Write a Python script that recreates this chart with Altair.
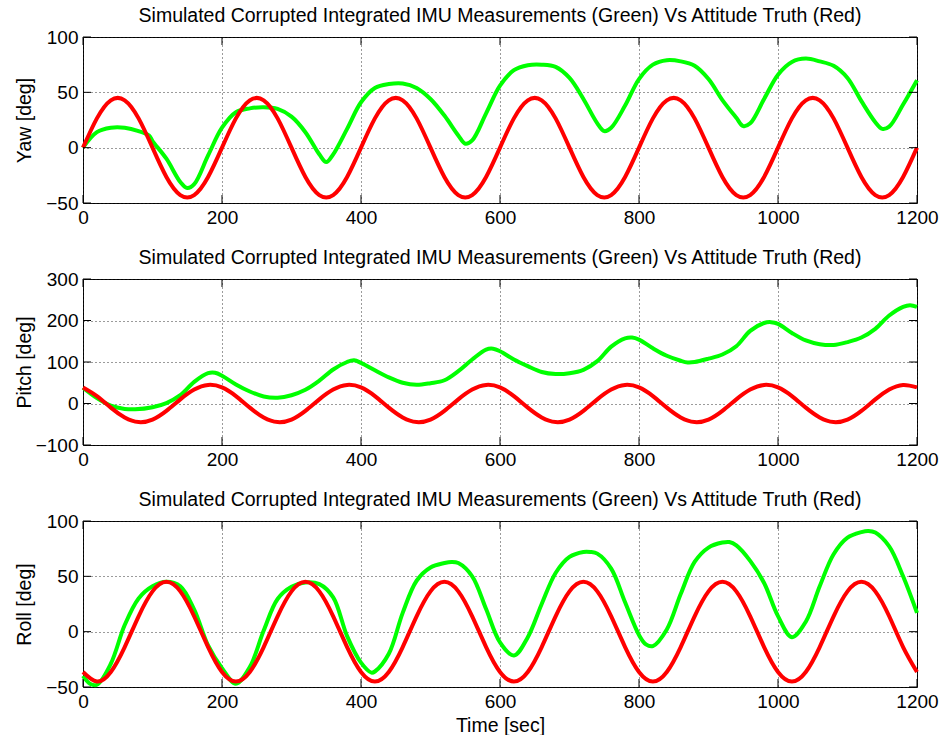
import altair as alt
import pandas as pd

FONT = "Liberation Sans"
TITLE = "Simulated Corrupted Integrated IMU Measurements (Green) Vs Attitude Truth (Red)"
W, H = 834, 166

x_ticks = [0, 200, 400, 600, 800, 1000, 1200]

# Truth samples every 20 s
red_t = list(range(0, 1201, 20))

yaw_red = [
    0, 26.5, 42.8, 42.8, 26.5, 0, -26.5, -42.8, -42.8, -26.5,
    0, 26.5, 42.8, 42.8, 26.5, 0, -26.5, -42.8, -42.8, -26.5,
    0, 26.5, 42.8, 42.8, 26.5, 0, -26.5, -42.8, -42.8, -26.5,
    0, 26.5, 42.8, 42.8, 26.5, 0, -26.5, -42.8, -42.8, -26.5,
    0, 26.5, 42.8, 42.8, 26.5, 0, -26.5, -42.8, -42.8, -26.5,
    0, 26.5, 42.8, 42.8, 26.5, 0, -26.5, -42.8, -42.8, -26.5,
    0,
]
pitch_red = [
    38.8, 17.9, -10, -33.6, -44.8, -38.8, -17.9, 10, 33.6, 44.8,
    38.8, 17.9, -10, -33.6, -44.8, -38.8, -17.9, 10, 33.6, 44.8,
    38.8, 17.9, -10, -33.6, -44.8, -38.8, -17.9, 10, 33.6, 44.8,
    38.8, 17.9, -10, -33.6, -44.8, -38.8, -17.9, 10, 33.6, 44.8,
    38.8, 17.9, -10, -33.6, -44.8, -38.8, -17.9, 10, 33.6, 44.8,
    38.8, 17.9, -10, -33.6, -44.8, -38.8, -17.9, 10, 33.6, 44.8,
    38.8,
]
roll_red = [
    -36.4, -45, -36.4, -13.9, 13.9, 36.4, 45, 36.4, 13.9, -13.9,
    -36.4, -45, -36.4, -13.9, 13.9, 36.4, 45, 36.4, 13.9, -13.9,
    -36.4, -45, -36.4, -13.9, 13.9, 36.4, 45, 36.4, 13.9, -13.9,
    -36.4, -45, -36.4, -13.9, 13.9, 36.4, 45, 36.4, 13.9, -13.9,
    -36.4, -45, -36.4, -13.9, 13.9, 36.4, 45, 36.4, 13.9, -13.9,
    -36.4, -45, -36.4, -13.9, 13.9, 36.4, 45, 36.4, 13.9, -13.9,
    -36.4,
]

# Integrated IMU measurements
yaw_green_t = [0, 20, 40, 60, 80, 95, 100, 120, 140, 150, 160, 180, 200, 220, 240, 260, 280,
               300, 320, 340, 350, 360, 380, 400, 420, 440, 460, 480, 500, 520, 540, 550,
               560, 580, 600, 620, 640, 660, 680, 700, 720, 740, 750, 760, 780, 800, 820,
               840, 860, 880, 900, 920, 940, 950, 960, 980, 1000, 1020, 1040, 1060, 1080,
               1100, 1120, 1140, 1150, 1160, 1180, 1200]
yaw_green = [0, 14, 18, 18, 15, 11, 6, -10, -31, -36.5, -33, -7, 18, 32, 35.5, 36.5, 35,
             28, 14, -6, -13, -6, 17, 41, 54, 57.5, 58, 54, 44, 29, 11, 3.6,
             6.6, 31, 56, 70, 74.5, 75, 73, 63, 44, 22, 15, 18, 38, 62, 75,
             79, 78, 74, 62, 43, 27, 19.5, 22, 44, 66, 77.5, 80.5, 78, 74,
             63, 42, 23, 17, 19, 39, 61]

pitch_green_t = [0, 20, 40, 60, 75, 100, 120, 140, 160, 180, 190, 200, 220, 240, 260, 280,
                 300, 320, 340, 360, 380, 390, 400, 420, 440, 460, 480, 500, 520, 540,
                 560, 580, 590, 600, 620, 640, 660, 680, 700, 720, 740, 760, 780, 790,
                 800, 820, 840, 860, 870, 880, 900, 920, 940, 960, 980, 990, 1000, 1020,
                 1040, 1060, 1080, 1100, 1120, 1140, 1160, 1180, 1190, 1200]
pitch_green = [38, 13, -5, -13, -14, -9, 1, 20, 52, 73, 74, 67, 46, 29, 17, 14,
               20, 33, 55, 82, 100, 104, 98, 80, 63, 50, 45, 49, 56, 78,
               106, 130, 132, 126, 106, 90, 76, 71, 73, 81, 102, 137, 157, 159,
               154, 133, 115, 103, 99, 100, 108, 118, 138, 175, 194, 196, 192, 170,
               152, 143, 141, 148, 159, 180, 212, 233, 237, 233]

roll_green_t = [0, 10, 20, 40, 60, 80, 100, 120, 140, 160, 180, 200, 220, 240, 260, 280,
                300, 320, 340, 360, 380, 400, 415, 420, 440, 460, 480, 500, 520, 530,
                540, 560, 580, 600, 620, 640, 660, 680, 700, 720, 730, 740, 760, 780,
                800, 810, 820, 840, 860, 880, 900, 920, 930, 940, 960, 980, 1000, 1020,
                1040, 1060, 1080, 1100, 1120, 1130, 1140, 1160, 1180, 1200]
roll_green = [-40, -47, -48, -29, 6, 30, 41, 45, 41, 20, -12.5, -33, -47, -32, 1, 29.5,
              40.5, 44.5, 43, 31, -4, -28, -37, -36, -20, 17, 46, 58, 62, 63,
              62, 50, 20.5, -9.6, -21.5, -5, 25, 53, 67.5, 72, 72, 70.5, 57, 26.5,
              -3, -11.5, -13, 2, 34, 63, 76, 80.5, 81, 78, 64, 44, 14, -5,
              9, 41, 70, 85, 90, 91, 89.5, 77, 50, 17]


def panel(red_v, g_t, g_v, y_dom, y_ticks, y_title, x_title=None):
    red = pd.DataFrame({"t": red_t, "v": red_v})
    green = pd.DataFrame({"t": g_t, "v": g_v})
    x_enc = alt.X(
        "t:Q",
        scale=alt.Scale(domain=[0, 1200], nice=False, zero=False),
        axis=alt.Axis(values=x_ticks, grid=True, labelFlush=False, labelOverlap=False,
                      format="d", titlePadding=5),
        title=x_title,
    )
    y_enc = alt.Y(
        "v:Q",
        scale=alt.Scale(domain=y_dom, nice=False, zero=False),
        axis=alt.Axis(values=y_ticks, grid=True, labelFlush=False, labelOverlap=False,
                      format="d", minExtent=42, maxExtent=42, titlePadding=7),
        title=y_title,
    )
    g_line = alt.Chart(green).mark_line(
        color="#00ff00", strokeWidth=4, interpolate="catmull-rom"
    ).encode(x=x_enc, y=y_enc)
    r_line = alt.Chart(red).mark_line(
        color="#ff0000", strokeWidth=4, interpolate="natural"
    ).encode(x=x_enc, y=y_enc)

    # short inward ticks on all four sides of the box
    xt = pd.DataFrame({"t": x_ticks})
    yt = pd.DataFrame({"v": y_ticks})
    tick_style = dict(color="black", strokeWidth=1)
    xb = alt.Chart(xt).mark_rule(**tick_style).encode(x=x_enc, y=alt.value(H - 8), y2=alt.value(H))
    xtp = alt.Chart(xt).mark_rule(**tick_style).encode(x=x_enc, y=alt.value(0), y2=alt.value(8))
    yl = alt.Chart(yt).mark_rule(**tick_style).encode(y=y_enc, x=alt.value(0), x2=alt.value(8))
    yr = alt.Chart(yt).mark_rule(**tick_style).encode(y=y_enc, x=alt.value(W - 8), x2=alt.value(W))

    return alt.layer(g_line, r_line, xb, xtp, yl, yr).properties(
        width=W, height=H, title=TITLE
    )


yaw = panel(yaw_red, yaw_green_t, yaw_green, [-50, 100], [-50, 0, 50, 100], "Yaw [deg]")
pitch = panel(pitch_red, pitch_green_t, pitch_green, [-100, 300], [-100, 0, 100, 200, 300],
              "Pitch [deg]")
roll = panel(roll_red, roll_green_t, roll_green, [-50, 100], [-50, 0, 50, 100], "Roll [deg]",
             x_title="Time [sec]")

chart = alt.vconcat(yaw, pitch, roll, spacing=19).properties(
    padding={"left": 13, "top": 5, "right": 0, "bottom": 0}
).configure_view(
    stroke="black", strokeWidth=1
).configure_axis(
    labelFont=FONT, labelFontSize=19, labelColor="black",
    titleFont=FONT, titleFontSize=19.5, titleFontWeight="normal", titleColor="black",
    gridColor="#222222", gridDash=[1, 3], gridWidth=1, gridOpacity=0.9,
    tickSize=0, domain=False, labelPadding=5,
).configure_title(
    font=FONT, fontSize=19.5, fontWeight="normal", color="black", offset=2
)

chart.save("out.html", embed_options={"renderer": "svg", "actions": False})
